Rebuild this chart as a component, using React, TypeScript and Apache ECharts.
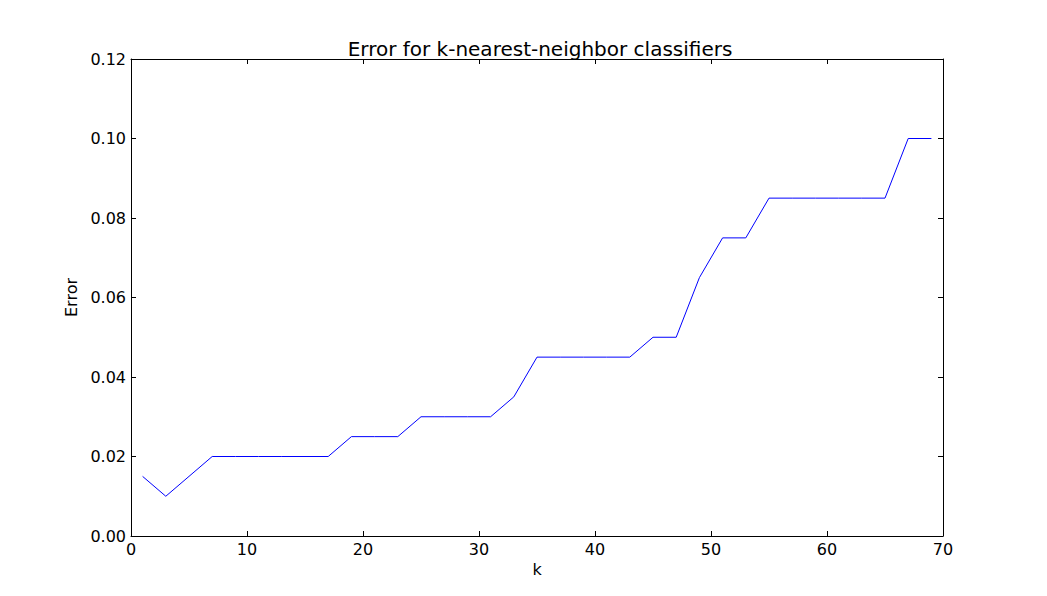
import React, { useEffect, useRef } from "react";
import * as echarts from "echarts";

const kValues = [1, 3, 5, 7, 9, 11, 13, 15, 17, 19, 21, 23, 25, 27, 29, 31, 33, 35, 37, 39, 41, 43, 45, 47, 49, 51, 53, 55, 57, 59, 61, 63, 65, 67, 69];
const errorValues = [0.015, 0.01, 0.015, 0.02, 0.02, 0.02, 0.02, 0.02, 0.02, 0.025, 0.025, 0.025, 0.03, 0.03, 0.03, 0.03, 0.035, 0.045, 0.045, 0.045, 0.045, 0.045, 0.05, 0.05, 0.065, 0.075, 0.075, 0.085, 0.085, 0.085, 0.085, 0.085, 0.085, 0.1, 0.1];

const titleText = "Error for k-nearest-neighbor classifiers";
const xName = "k";
const yName = "Error";

const FONT = "DejaVu Sans";

export default function App() {
  const ref = useRef<HTMLDivElement>(null);
  useEffect(() => {
    if (!ref.current) return;
    const chart = echarts.init(ref.current, undefined, { renderer: "svg" });
    const data = kValues.map((k, i) => [k, errorValues[i]]);
    const axisLine = { show: true, onZero: false, lineStyle: { color: "#000", width: 1 } };
    const tick = { show: true, inside: true, length: 5, lineStyle: { color: "#000", width: 1 } };
    const label = { color: "#000", fontFamily: FONT, fontSize: 16 };
    chart.setOption({
      animation: false,
      backgroundColor: "#fff",
      title: {
        text: titleText,
        left: 535,
        top: 34,
        textAlign: "center",
        textStyle: { color: "#000", fontFamily: FONT, fontSize: 20, fontWeight: "normal" },
      },
      grid: { left: 131, right: 104, top: 59, bottom: 60, containLabel: false },
      xAxis: [
        {
          type: "value",
          min: 0,
          max: 70,
          interval: 10,
          position: "bottom",
          name: xName,
          nameLocation: "middle",
          nameGap: 20,
          nameTextStyle: { color: "#000", fontFamily: FONT, fontSize: 16 },
          axisLine,
          axisTick: tick,
          axisLabel: { ...label, margin: 5 },
          splitLine: { show: false },
        },
        {
          type: "value",
          min: 0,
          max: 70,
          interval: 10,
          position: "top",
          axisLine,
          axisTick: tick,
          axisLabel: { show: false },
          splitLine: { show: false },
        },
      ],
      yAxis: [
        {
          type: "value",
          min: 0,
          max: 0.12,
          interval: 0.02,
          position: "left",
          name: yName,
          nameLocation: "middle",
          nameGap: 39,
          nameTextStyle: { color: "#000", fontFamily: FONT, fontSize: 16 },
          axisLine,
          axisTick: tick,
          axisLabel: { ...label, margin: 5, formatter: (v: number) => v.toFixed(2) },
          splitLine: { show: false },
        },
        {
          type: "value",
          min: 0,
          max: 0.12,
          interval: 0.02,
          position: "right",
          axisLine,
          axisTick: tick,
          axisLabel: { show: false },
          splitLine: { show: false },
        },
      ],
      series: [
        {
          type: "line",
          data,
          xAxisIndex: 0,
          yAxisIndex: 0,
          showSymbol: false,
          symbol: "none",
          lineStyle: { color: "#0000ff", width: 1 },
        },
      ],
    });
    return () => chart.dispose();
  }, []);
  return (
    <div
      ref={ref}
      style={{ position: "fixed", left: 0, top: 0, width: 1047, height: 596, background: "#fff" }}
    />
  );
}
